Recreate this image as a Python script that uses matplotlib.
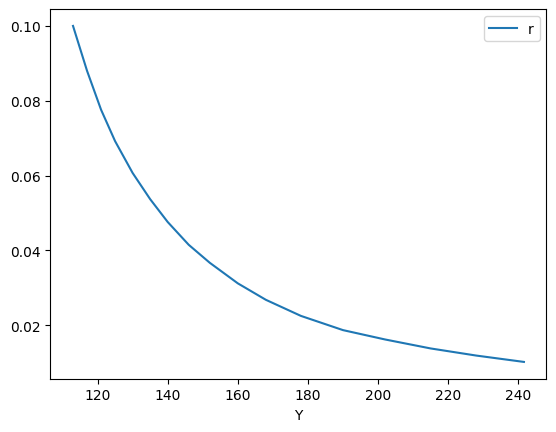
import matplotlib
matplotlib.use("Agg")
import matplotlib.pyplot as plt

# values
Y = [113.0, 117.0, 121.0, 125.0, 130.0, 135.0, 140.0, 146.0, 152.0, 160.0,
     168.0, 178.0, 190.0, 202.0, 215.0, 228.0, 241.6]
r = [0.1000, 0.0880, 0.0776, 0.0692, 0.0607, 0.0537, 0.0476, 0.0415, 0.0367, 0.0312,
     0.0268, 0.0225, 0.0187, 0.0162, 0.0138, 0.0119, 0.0102]

fig, ax = plt.subplots(figsize=(6.4, 4.8), dpi=100)
ax.plot(Y, r, label="r")
ax.set_xlabel("Y")
ax.legend()
fig.savefig("out.png", dpi=100, bbox_inches="tight")
